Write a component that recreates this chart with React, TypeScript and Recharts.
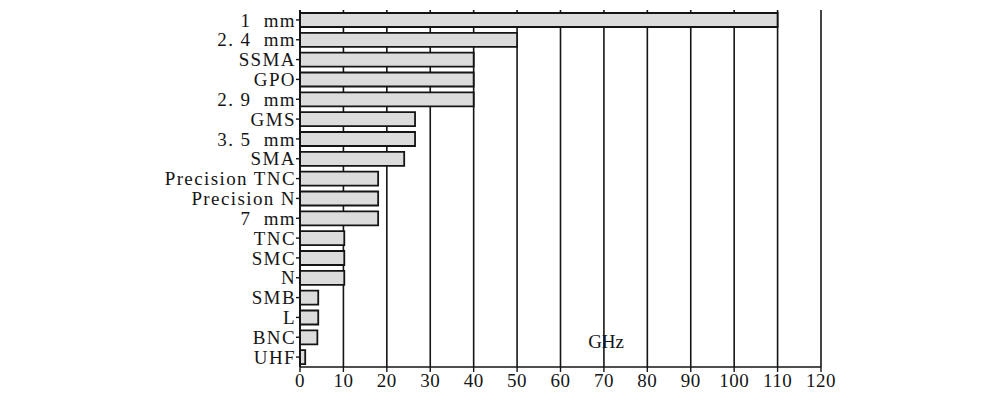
import { Bar, BarChart, CartesianGrid, ReferenceDot, XAxis, YAxis } from "recharts";

const CONNECTORS = [
  "1\u00a0\u00a0mm",
  "2.\u00a04\u00a0\u00a0mm",
  "SSMA",
  "GPO",
  "2.\u00a09\u00a0\u00a0mm",
  "GMS",
  "3.\u00a05\u00a0\u00a0mm",
  "SMA",
  "Precision TNC",
  "Precision N",
  "7\u00a0\u00a0mm",
  "TNC",
  "SMC",
  "N",
  "SMB",
  "L",
  "BNC",
  "UHF",
];
const MAX_FREQ_GHZ = [110, 50, 40, 40, 40, 26.5, 26.5, 24, 18, 18, 18, 10.2, 10.2, 10.2, 4.2, 4.2, 4, 1.2];
const FREQ_TICKS = [0, 10, 20, 30, 40, 50, 60, 70, 80, 90, 100, 110, 120];

const data = CONNECTORS.map((name, i) => ({ name, ghz: MAX_FREQ_GHZ[i] }));

const FONT = '"Liberation Serif", "Times New Roman", serif';
const INK = "#151515";

export default function App() {
  return (
    <div style={{ width: 1000, height: 400, background: "#fff" }}>
      <style>{"body{margin:0}"}</style>
      <BarChart
        width={1000}
        height={400}
        data={data}
        layout="vertical"
        margin={{ top: 10, right: 179, left: 0, bottom: 3 }}
        barSize={14}
      >
        <CartesianGrid
          horizontal={false}
          stroke={INK}
          strokeWidth={1.6}
          strokeDasharray=""
        />
        <XAxis
          type="number"
          domain={[0, 120]}
          ticks={FREQ_TICKS}
          interval={0}
          height={30}
          axisLine={{ stroke: INK, strokeWidth: 1.6 }}
          tickLine={{ stroke: INK, strokeWidth: 1.4 }}
          tickSize={5}
          tickMargin={2}
          tick={{ fill: INK, fontSize: 19, fontFamily: FONT, letterSpacing: 0.5 }}
        />
        <XAxis
          xAxisId="top"
          orientation="top"
          type="number"
          domain={[0, 120]}
          height={0}
          tick={false}
          tickLine={false}
          axisLine={{ stroke: INK, strokeWidth: 1.6 }}
        />
        <YAxis
          type="category"
          dataKey="name"
          width={300}
          interval={0}
          axisLine={{ stroke: INK, strokeWidth: 1.8 }}
          tickLine={{ stroke: INK, strokeWidth: 1.4 }}
          tickSize={4}
          tickMargin={0}
          tick={{ fill: INK, fontSize: 19, fontFamily: FONT, letterSpacing: 1.4 }}
        />
        <Bar
          dataKey="ghz"
          fill="#dcdcdc"
          stroke={INK}
          strokeWidth={1.8}
          isAnimationActive={false}
        />
        <ReferenceDot
          x={70.5}
          y="BNC"
          r={0}
          fill="none"
          stroke="none"
          label={{
            value: "GHz",
            position: "center",
            fill: INK,
            fontSize: 19,
            fontFamily: FONT,
            dy: 4,
          }}
        />
      </BarChart>
    </div>
  );
}
